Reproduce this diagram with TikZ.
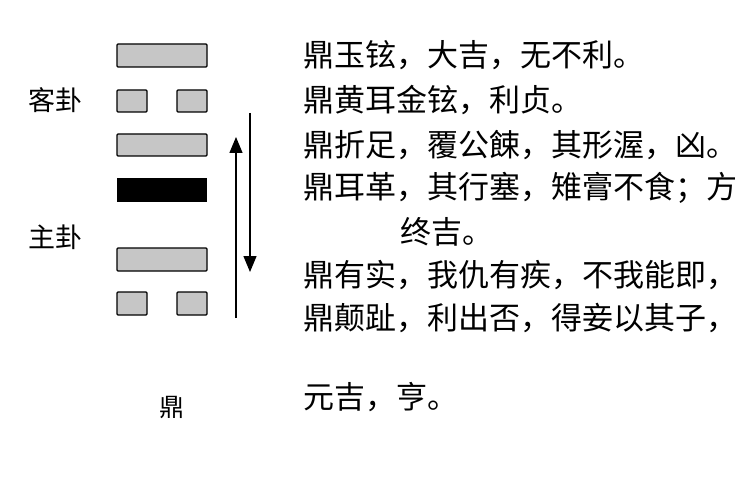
\documentclass[tikz,border=0pt]{standalone}
\usepackage{fontspec}
\usetikzlibrary{arrows.meta}
\newfontfamily\cjk{Noto Sans CJK SC}
\begin{document}
\begin{tikzpicture}[x=1pt,y=-1pt,
  yang/.style={draw=black,line width=1.3pt,fill=gray!45,rounded corners=1pt},
  yin/.style={draw=black,line width=1.3pt,fill=gray!45,rounded corners=1pt},
  txt/.style={anchor=west,inner sep=0pt,font=\cjk\fontsize{31}{31}\selectfont},
  lbl/.style={inner sep=0pt,font=\cjk\fontsize{27}{27}\selectfont},
  arr/.style={line width=1.4pt,-{Triangle[length=16pt,width=13pt]}}]
\useasboundingbox (0,0) rectangle (750,500);
\clip (0,0) rectangle (750,500);
\fill[white] (0,0) rectangle (750,500);
\draw[yang] (117,44) rectangle (207,67);
\draw[yin] (117,90) rectangle (147,112);
\draw[yin] (177,90) rectangle (207,112);
\draw[yang] (117,134) rectangle (207,156);
\fill[black] (117,178) rectangle (207,202);
\draw[yang] (117,248) rectangle (207,271);
\draw[yin] (117,292) rectangle (147,315);
\draw[yin] (177,292) rectangle (207,315);
\coordinate (ua) at (236,318); \coordinate (ub) at (236,137);
\coordinate (da) at (250,113); \coordinate (db) at (250,272);
\draw[arr] (ua) -- (ub);
\draw[arr] (da) -- (db);
\node[lbl] (k) at (55,100) {客卦};
\node[lbl] (z) at (55,237) {主卦};
\node[lbl,font=\cjk\fontsize{25}{25}\selectfont] (d) at (172,408) {鼎};
\node[txt] (t1) at (303,55) {鼎玉铉，大吉，无不利。};
\node[txt] (t2) at (303,100) {鼎黄耳金铉，利贞。};
\node[txt] (t3) at (303,145) {鼎折足，覆公餗，其形渥，凶。};
\node[txt] (t4) at (303,188) {鼎耳革，其行塞，雉膏不食；方};
\node[txt] (t5) at (400,232) {终吉。};
\node[txt] (t6) at (303,275) {鼎有实，我仇有疾，不我能即，};
\node[txt] (t7) at (303,318) {鼎颠趾，利出否，得妾以其子，};
\node[txt] (t8) at (303,397) {元吉，亨。};
\end{tikzpicture}
\end{document}
